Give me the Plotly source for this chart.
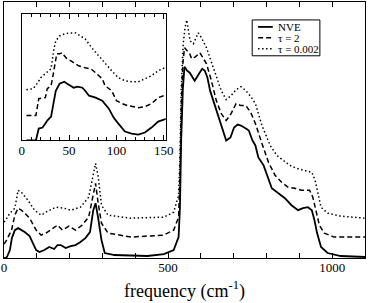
import plotly.graph_objects as go

# ---------------- main panel data (arbitrary intensity units) ----------------
freq_nve = [0, 5, 9, 12, 18, 24, 33, 43, 53, 63, 78, 88, 98, 108, 123, 138, 153, 163, 173, 188,
            203, 218, 233, 248, 262, 272, 279, 287, 297, 307, 337, 387, 437, 487, 517, 532, 536, 540, 545, 550,
            558, 566, 581, 596, 604, 612, 620, 628, 647, 668, 677, 690, 701, 712, 722, 737, 746, 757, 766, 775,
            791, 816, 836, 856, 876, 896, 911, 926, 938, 946, 954, 966, 986, 1026, 1100]
nve = [0, 0, 1, 3, 8, 20, 28, 30, 28, 26, 22, 15, 8, 6, 8, 11, 9, 13, 13, 10,
       12, 13, 16, 20, 26, 48, 55, 40, 18, 5, 3, 2.5, 2, 4, 8, 21, 50, 120, 170, 192,
       188, 186, 178, 186, 190, 188, 181, 168, 148, 128, 118, 121, 131, 134, 133, 130, 128, 118, 113, 101,
       93, 70, 65, 60, 53, 48, 50, 51, 48, 38, 25, 11, 5, 2, 1]

freq_tau2 = [0, 8, 23, 33, 43, 53, 63, 78, 98, 113, 128, 148, 163, 178, 198, 218, 238, 258, 267, 279,
             287, 297, 317, 387, 487, 517, 532, 536, 540, 545, 550, 559, 566, 572, 583, 597, 607, 617, 632, 647,
             662, 677, 692, 707, 722, 737, 752, 766, 786, 806, 826, 846, 866, 886, 906, 931, 941, 951, 961, 976,
             1006, 1100]
tau2 = [14, 18, 28, 43, 50, 48, 45, 40, 28, 23, 25, 30, 33, 28, 32, 28, 33, 41, 55, 75,
        55, 35, 25, 21, 23, 28, 41, 80, 150, 195, 211, 207, 205, 200, 202, 206, 200, 195, 178, 158,
        145, 138, 145, 155, 153, 153, 146, 135, 115, 96, 83, 76, 71, 70, 68, 68, 61, 48, 33, 25,
        21, 21]

freq_tau002 = [0, 5, 18, 33, 43, 53, 73, 93, 113, 133, 158, 183, 203, 233, 258, 272, 279, 287, 297, 317,
               387, 487, 517, 532, 536, 540, 546, 552, 557, 567, 577, 592, 602, 617, 632, 647, 662, 677, 692, 707,
               722, 737, 752, 766, 786, 811, 831, 851, 871, 891, 916, 938, 948, 956, 966, 986, 1026, 1100]
tau002 = [36, 38, 45, 50, 68, 66, 58, 48, 43, 47, 51, 50, 48, 51, 61, 85, 95, 82, 53, 43,
          40, 41, 46, 63, 100, 170, 215, 232, 239, 218, 215, 226, 221, 211, 196, 183, 168, 159, 163, 169,
          172, 168, 162, 155, 133, 113, 103, 98, 93, 90, 88, 86, 78, 65, 51, 45, 42, 40]

# ---------------- inset data (low-frequency region) ----------------
in_freq_nve = [5, 15, 18, 22, 25, 27, 31, 33, 36, 40, 45, 48, 52, 55, 59, 64, 67, 71, 78, 85,
               92, 97, 102, 109, 116, 123, 130, 137, 144, 153]
in_nve = [0, 0, 12, 13, 17, 20, 24, 33, 50, 57, 59, 57, 55, 53, 54, 53, 50, 45, 43, 40,
          32, 23, 17, 9, 7, 6, 8, 13, 19, 22]
in_freq_tau2 = [5, 15, 18, 25, 27, 31, 33, 35, 37, 40, 43, 45, 48, 52, 55, 60, 67, 73, 78, 85,
                88, 95, 100, 106, 112, 123, 130, 137, 144, 153]
in_tau2 = [25, 25, 42, 43, 52, 55, 65, 75, 87, 87, 88, 85, 82, 80, 78, 75, 73, 72, 68, 62,
           55, 50, 40, 37, 35, 33, 34, 37, 43, 46]
in_freq_tau002 = [5, 12, 17, 20, 26, 31, 34, 36, 40, 45, 50, 57, 62, 67, 74, 81, 88, 95, 102, 109,
                  116, 123, 130, 137, 144, 153]
in_tau002 = [51, 52, 58, 63, 68, 72, 92, 100, 105, 107, 108, 108, 105, 102, 93, 85, 77, 70, 63, 60,
             59, 59, 62, 65, 70, 74]

series_names = ["NVE", "\u03c4 = 2", "\u03c4 = 0.002"]

assert len(freq_nve) == len(nve)
assert len(freq_tau2) == len(tau2)
assert len(freq_tau002) == len(tau002)
assert len(in_freq_nve) == len(in_nve)
assert len(in_freq_tau2) == len(in_tau2)
assert len(in_freq_tau002) == len(in_tau002)

SERIF = "Liberation Serif, Times New Roman, serif"
styles = [dict(color="black", width=1.8, dash="solid"),
          dict(color="black", width=1.5, dash="5px,3px"),
          dict(color="black", width=1.5, dash="1.5px,2.5px")]

fig = go.Figure()
main_sets = [(freq_nve, nve), (freq_tau2, tau2), (freq_tau002, tau002)]
inset_sets = [(in_freq_nve, in_nve), (in_freq_tau2, in_tau2), (in_freq_tau002, in_tau002)]
for (fx, fy), st, nm in zip(main_sets, styles, series_names):
    fig.add_trace(go.Scatter(x=fx, y=fy, mode="lines", line=st, name=nm,
                             showlegend=False, xaxis="x", yaxis="y"))
for (fx, fy), st, nm in zip(inset_sets, styles, series_names):
    fig.add_trace(go.Scatter(x=fx, y=fy, mode="lines", line=st, name=nm,
                             showlegend=False, xaxis="x2", yaxis="y2", cliponaxis=True))

axis_common = dict(showline=True, linecolor="black", linewidth=1, showgrid=False, zeroline=False)

fig.update_layout(
    width=374, height=303,
    margin=dict(l=4, r=2, t=1, b=45),
    paper_bgcolor="white", plot_bgcolor="white",
    font=dict(family=SERIF, color="black"),
    xaxis=dict(domain=[0, 1], range=[0, 1100], mirror="allticks", ticks="inside",
               ticklen=5, tickcolor="black", tick0=0, dtick=500, ticklabelstandoff=-3,
               minor=dict(dtick=100, ticks="inside", ticklen=5, tickcolor="black"),
               tickfont=dict(family=SERIF, size=13, color="black"), **axis_common),
    yaxis=dict(domain=[0, 1], range=[0, 257], mirror=True, ticks="", showticklabels=False,
               **axis_common),
    xaxis2=dict(domain=[0.049, 0.448], anchor="y2", range=[0, 152], mirror="allticks",
                ticks="inside", ticklen=5, tickcolor="black", tick0=0, dtick=50, ticklabelstandoff=-2,
                minor=dict(dtick=10, ticks="inside", ticklen=3, tickcolor="black"),
                tickfont=dict(family=SERIF, size=13, color="black"), **axis_common),
    yaxis2=dict(domain=[0.459, 0.953], anchor="x2", range=[0, 127], mirror=True, ticks="",
                showticklabels=False, **axis_common),
)

# x-axis title
fig.add_annotation(text="frequency (cm<sup>-1</sup>)", xref="paper", yref="paper",
                   x=0.5, y=-0.125, xanchor="center", yanchor="middle", showarrow=False,
                   font=dict(family=SERIF, size=18, color="black"))

# legend box drawn manually (compact, as in the reference)
def px_x(px):
    return (px - 4) / 368.0

def px_y(py):
    return (258 - py) / 257.0

fig.add_shape(type="rect", xref="paper", yref="paper",
              x0=px_x(257), x1=px_x(326), y0=px_y(55), y1=px_y(19),
              line=dict(color="black", width=1), fillcolor="white", layer="above")
for i, (st, nm) in enumerate(zip(styles, series_names)):
    yy = px_y(26 + 11 * i)
    fig.add_shape(type="line", xref="paper", yref="paper",
                  x0=px_x(263), x1=px_x(278), y0=yy, y1=yy,
                  line=st, layer="above")
    fig.add_annotation(text=nm, xref="paper", yref="paper", x=px_x(281), y=yy,
                       xanchor="left", yanchor="middle", showarrow=False,
                       font=dict(family=SERIF, size=11, color="black"))

fig.write_html("out.html", config={"displayModeBar": False},
               post_script="document.body.style.margin='0';")
